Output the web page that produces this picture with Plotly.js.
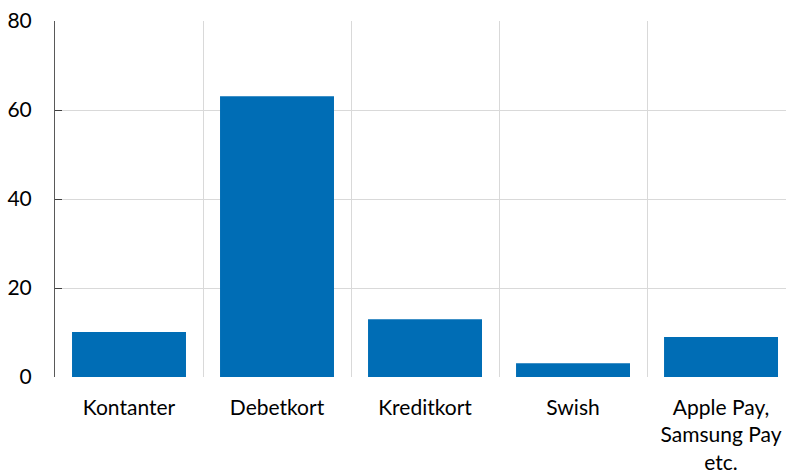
<!DOCTYPE html>
<html>
<head>
<meta charset="utf-8">
<script src="https://cdn.plot.ly/plotly-3.0.1.min.js"></script>
<style>html,body{margin:0;padding:0;background:#fff;}#chart{width:786px;height:470px;}</style>
</head>
<body>
<div id="chart"></div>
<script>
const categories = ["Kontanter", "Debetkort", "Kreditkort", "Swish", "Apple Pay,<br>Samsung Pay<br>etc."];
const values = [10.1, 63.1, 13.0, 3.1, 9.0];
const yTicks = [0, 20, 40, 60, 80];

const trace = {
  type: "bar",
  x: categories,
  y: values,
  marker: {color: "#006db5"},
  hoverinfo: "none"
};

const layout = {
  width: 786,
  height: 470,
  margin: {l: 55, r: 0, t: 21, b: 93},
  paper_bgcolor: "#ffffff",
  plot_bgcolor: "#ffffff",
  bargap: 0.23,
  showlegend: false,
  font: {family: "Lato, sans-serif", size: 21, color: "#000000"},
  xaxis: {
    type: "category",
    range: [-0.5, 4.439],
    tickson: "boundaries",
    showgrid: true,
    gridcolor: "#d9d9d9",
    gridwidth: 1,
    ticks: "",
    showline: false,
    zeroline: false,
    ticklabelstandoff: 16,
    tickfont: {size: 21}
  },
  yaxis: {
    range: [0, 80],
    tickvals: yTicks,
    ticktext: yTicks.map(String),
    showgrid: true,
    gridcolor: "#d9d9d9",
    gridwidth: 1,
    zeroline: false,
    showline: true,
    linecolor: "#595959",
    linewidth: 1,
    ticks: "inside",
    ticklen: 7,
    tickwidth: 1,
    tickcolor: "#404040",
    ticklabelstandoff: 18,
    tickfont: {size: 21}
  }
};

Plotly.newPlot("chart", [trace], layout, {staticPlot: true, displayModeBar: false});
</script>
</body>
</html>
